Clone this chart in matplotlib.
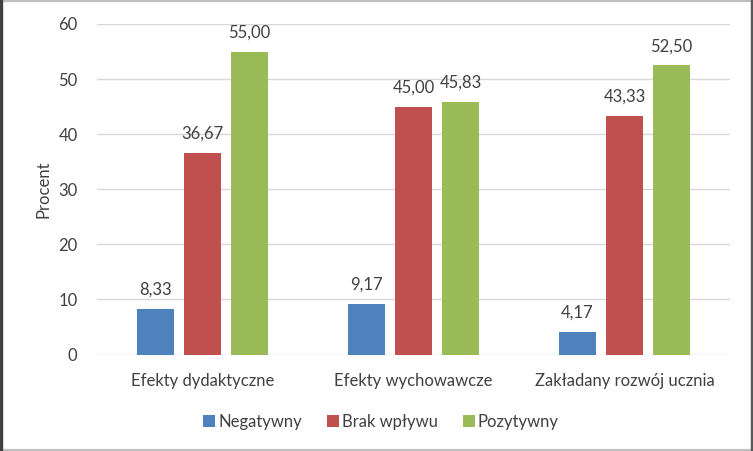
import numpy as np
import matplotlib
matplotlib.use("Agg")
import matplotlib.pyplot as plt
from matplotlib.patches import Rectangle

categories = ["Efekty dydaktyczne", "Efekty wychowawcze", "Zakładany rozwój ucznia"]
series_names = ["Negatywny", "Brak wpływu", "Pozytywny"]
negatywny = [8.33, 9.17, 4.17]
brak_wplywu = [36.67, 45.00, 43.33]
pozytywny = [55.00, 45.83, 52.50]
colors = ["#4F81BD", "#C0504D", "#9BBB59"]
yticks = [0, 10, 20, 30, 40, 50, 60]

plt.rcParams['font.family'] = ['Lato', 'DejaVu Sans']
txt = "#404040"
fs = 12

fig = plt.figure(figsize=(7.53, 4.51), dpi=100)
ax = fig.add_axes([97/753, 1 - 354.5/451, 633/753, 330.5/451])

x = np.arange(len(categories))
w = 0.175
step = 0.223
for i, (vals, name) in enumerate(zip([negatywny, brak_wplywu, pozytywny], series_names)):
    bars = ax.bar(x + (i - 1) * step, vals, w, color=colors[i], label=name, zorder=3)
    ax.bar_label(bars, labels=[f"{v:.2f}".replace(".", ",") for v in vals],
                 padding=8, fontsize=fs, color=txt)

ax.set_xlim(-0.5, 2.5)
ax.set_ylim(0, 60)
ax.set_yticks(yticks)
ax.set_xticks(x)
ax.set_xticklabels(categories)
ax.tick_params(axis="both", length=0, labelsize=fs, labelcolor=txt)
ax.tick_params(axis="y", pad=14)
ax.tick_params(axis="x", pad=13)
ax.grid(axis="y", color="#d9d9d9", linewidth=1, zorder=0)
for s in ax.spines.values():
    s.set_visible(False)
ax.set_ylabel("Procent", fontsize=fs, color=txt, labelpad=5)

fig.legend(loc="center", bbox_to_anchor=(381/753, 1 - 422/451), ncol=3, frameon=False,
           fontsize=fs, labelcolor=txt, handlelength=0.7, handleheight=0.7,
           handletextpad=0.2, columnspacing=1.5)

# border like the exported chart frame
fig.patches.append(Rectangle((0, 0), 1, 1, transform=fig.transFigure, fill=False,
                             edgecolor="#bfbfbf", linewidth=3))
fig.patches.append(Rectangle((0, 0), 0.003, 1, transform=fig.transFigure,
                             color="#404040"))
fig.patches.append(Rectangle((0.997, 0), 0.003, 1, transform=fig.transFigure,
                             color="#595959"))

fig.savefig("out.png", dpi=100)
